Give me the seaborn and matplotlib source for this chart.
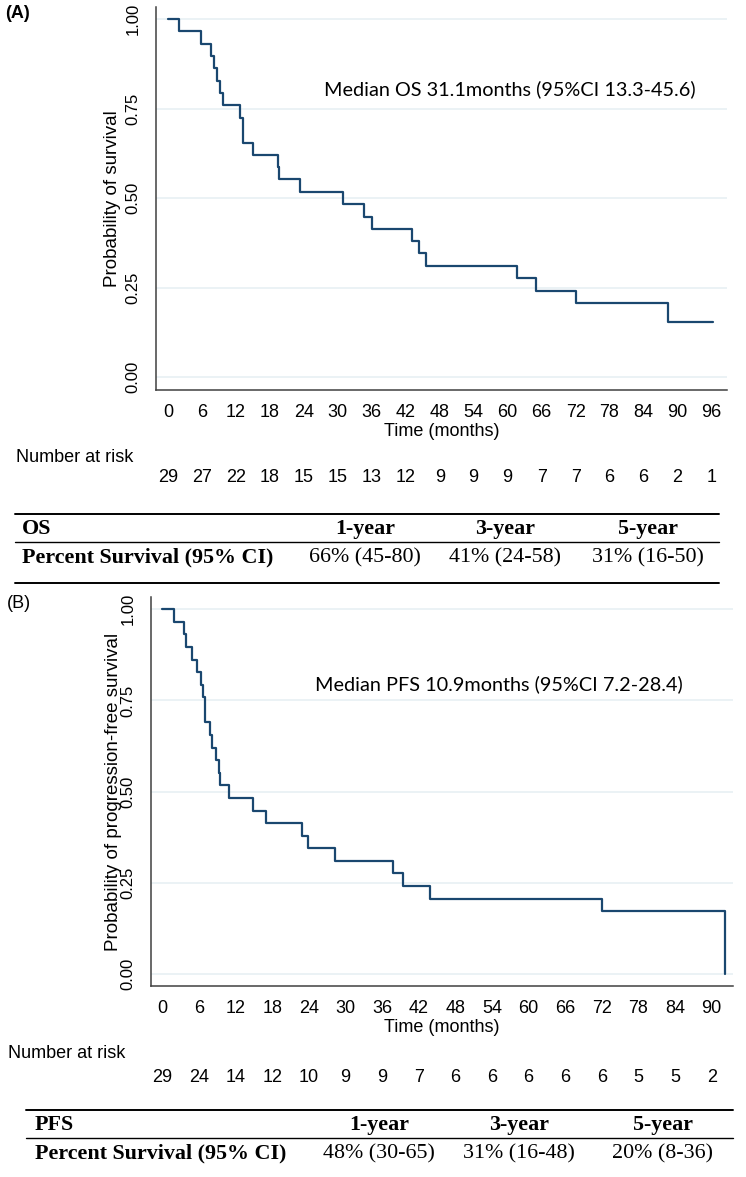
import matplotlib
matplotlib.use("Agg")
import matplotlib.pyplot as plt
from matplotlib.lines import Line2D
from matplotlib.transforms import blended_transform_factory
import pandas as pd
import seaborn as sns

# Kaplan-Meier steps (months, survival)
os_time = [0, 2.0, 5.9, 7.6, 8.1, 8.6, 9.2, 9.8, 12.8, 13.2, 15.0, 19.4, 19.6,
           23.3, 31.0, 34.6, 36.1, 43.1, 44.4, 45.5, 61.7, 65.0, 72.0, 88.4, 96.3]
os_surv = [1.0, 0.966, 0.931, 0.897, 0.862, 0.828, 0.793, 0.759, 0.724, 0.655,
           0.621, 0.586, 0.552, 0.517, 0.483, 0.448, 0.414, 0.379, 0.345, 0.310,
           0.276, 0.241, 0.207, 0.155, 0.155]

pfs_time = [0, 1.9, 3.6, 3.8, 4.8, 5.7, 6.4, 6.7, 7.0, 7.8, 8.2, 8.8, 9.3, 9.5,
            10.9, 14.8, 17.0, 22.8, 23.9, 28.3, 37.8, 39.5, 43.9, 72.0, 92.2]
pfs_surv = [1.0, 0.966, 0.931, 0.897, 0.862, 0.828, 0.793, 0.759, 0.690, 0.655,
            0.621, 0.586, 0.552, 0.517, 0.483, 0.448, 0.414, 0.379, 0.345, 0.310,
            0.276, 0.241, 0.207, 0.172, 0.0]

os_ticks = list(range(0, 97, 6))
os_risk = [29, 27, 22, 18, 15, 15, 13, 12, 9, 9, 9, 7, 7, 6, 6, 2, 1]
pfs_ticks = list(range(0, 91, 6))
pfs_risk = [29, 24, 14, 12, 10, 9, 9, 7, 6, 6, 6, 6, 6, 5, 5, 2]

y_ticks = [0.0, 0.25, 0.50, 0.75, 1.0]
table_cols = ["1-year", "3-year", "5-year"]
os_pct = ["66% (45-80)", "41% (24-58)", "31% (16-50)"]
pfs_pct = ["48% (30-65)", "31% (16-48)", "20% (8-36)"]

sns.set_style("white")
plt.rcParams["font.family"] = ["Liberation Sans", "DejaVu Sans"]
plt.rcParams["text.color"] = "black"
plt.rcParams["xtick.color"] = "black"
plt.rcParams["ytick.color"] = "black"

W, H = 746, 1177
fig = plt.figure(figsize=(W / 100, H / 100), dpi=100)

LINE = "#1a476f"
GRID = "#e6eff2"
SPINE = "#404040"


def fx(x):
    return x / W


def fy(y):
    return 1 - y / H


def hline(x0, x1, y, lw):
    fig.add_artist(Line2D([fx(x0), fx(x1)], [fy(y), fy(y)], color="black", lw=lw))


def km_panel(rect, time, surv, ticks, risk, xlim, ylim, ylabel, ylab_x, risk_y):
    left, top, right, bottom = rect
    ax = fig.add_axes([fx(left), fy(bottom), fx(right) - fx(left), (bottom - top) / H])
    df = pd.DataFrame({"time": time, "surv": surv})
    sns.lineplot(data=df, x="time", y="surv", ax=ax, drawstyle="steps-post",
                 color=LINE, lw=1.6, estimator=None, sort=False)
    for y in y_ticks:
        ax.axhline(y, color=GRID, lw=1.1, zorder=0)
    ax.set_xlim(*xlim)
    ax.set_ylim(*ylim)
    ax.set_xticks(ticks)
    ax.set_yticks(y_ticks)
    ax.set_yticklabels([f"{v:.2f}" for v in y_ticks])
    ax.set_xlabel("")
    ax.set_ylabel("")
    ax.grid(False)
    for s in ["top", "right"]:
        ax.spines[s].set_visible(False)
    for s in ["left", "bottom"]:
        ax.spines[s].set_color(SPINE)
        ax.spines[s].set_linewidth(1.1)
    ax.tick_params(axis="x", length=5, width=1, color=SPINE, labelsize=13, pad=5)
    ax.tick_params(axis="y", length=7, width=1, color=SPINE, labelsize=12,
                   pad=4, labelrotation=90)
    for lab in ax.get_yticklabels():
        lab.set_va("center")
    fig.text(fx(ylab_x), fy((top + bottom) / 2), ylabel, rotation=90,
             ha="center", va="center", fontsize=13.5)
    fig.text(fx((left + right) / 2), fy(bottom + 42), "Time (months)",
             ha="center", va="center", fontsize=13)
    tr = blended_transform_factory(ax.transData, fig.transFigure)
    for t, n in zip(ticks, risk):
        ax.text(t, fy(risk_y), str(n), transform=tr, ha="center", va="center",
                fontsize=13)
    return ax


def table(x_first, cols_x, lines_x, y_top, name, values):
    hline(lines_x[0], lines_x[1], y_top, 1.4)
    hline(lines_x[0], lines_x[1], y_top + 28, 1.0)
    hline(lines_x[0], lines_x[1], y_top + 69, 1.4)
    serif = ["Liberation Serif", "DejaVu Serif"]
    fig.text(fx(x_first), fy(y_top + 15), name, family=serif, weight="bold",
             fontsize=15.8, va="center")
    fig.text(fx(x_first), fy(y_top + 43), "Percent Survival (95% CI)", family=serif,
             weight="bold", fontsize=15.8, va="center")
    for cx, head, val in zip(cols_x, table_cols, values):
        fig.text(fx(cx), fy(y_top + 15), head, family=serif, weight="bold",
                 fontsize=15.8, ha="center", va="center")
        fig.text(fx(cx), fy(y_top + 44), val, family=serif, fontsize=15.8,
                 ha="center", va="center")


# (A) overall survival
km_panel((156, 6.7, 727, 390), os_time, os_surv, os_ticks, os_risk,
         (-2.12, 98.75), (-0.0363, 1.0344), "Probability of survival", 113, 478)
fig.text(fx(5), fy(13), "(A)", fontsize=13, weight="bold", va="center")
fig.text(fx(324), fy(89), "Median OS 31.1months (95%CI 13.3-45.6)",
         family=["Lato", "DejaVu Sans"], fontsize=14.3, va="center")
fig.text(fx(16), fy(457), "Number at risk", fontsize=13, va="center")
table(22, [365, 505, 648], (15, 719), 514, "OS", os_pct)

# (B) progression-free survival
km_panel((150.7, 597, 733, 986), pfs_time, pfs_surv, pfs_ticks, pfs_risk,
         (-1.92, 93.5), (-0.0329, 1.0337), "Probability of progression-free survival",
         114, 1077)
fig.text(fx(7), fy(604), "(B)", fontsize=13, va="center")
fig.text(fx(315), fy(684), "Median PFS 10.9months (95%CI 7.2-28.4)",
         family=["Lato", "DejaVu Sans"], fontsize=14.3, va="center")
fig.text(fx(8), fy(1054), "Number at risk", fontsize=13, va="center")
table(35, [379, 519, 663], (26, 733), 1110, "PFS", pfs_pct)

fig.savefig("out.png", dpi=100)
